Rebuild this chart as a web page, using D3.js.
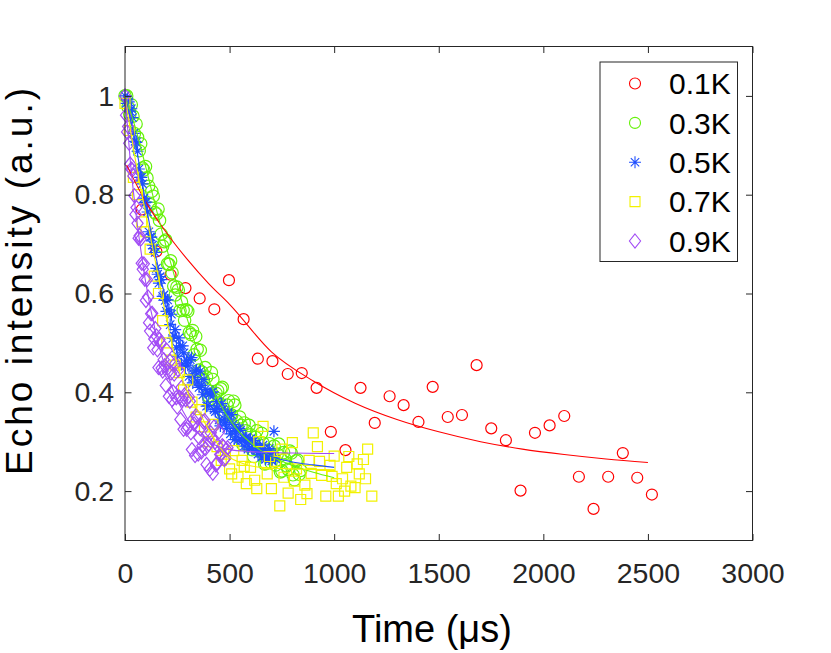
<!DOCTYPE html>
<html>
<head>
<meta charset="utf-8">
<script src="https://cdn.jsdelivr.net/npm/d3@7"></script>
<style>
  body { margin: 0; background: #fff; }
</style>
</head>
<body>
<div id="chart"></div>
<script>
// ---- data ----
var tempLabels = ["0.1K", "0.3K", "0.5K", "0.7K", "0.9K"];
var xTicks = [0, 500, 1000, 1500, 2000, 2500, 3000];
var yTicks = [0.2, 0.4, 0.6, 0.8, 1];

var time01 = [80, 150, 218, 289, 357, 427, 497, 567, 635, 705, 778, 845, 916, 984, 1054, 1126, 1194, 1265, 1332, 1403,
              1471, 1543, 1611, 1681, 1751, 1821, 1891, 1960, 2030, 2100, 2170, 2240, 2310, 2380, 2449, 2519];
var echo01 = [0.77, 0.685, 0.638, 0.611, 0.590, 0.568, 0.627, 0.548, 0.468, 0.463, 0.437, 0.439, 0.409, 0.320, 0.283, 0.409, 0.338, 0.392, 0.374, 0.340,
              0.411, 0.350, 0.354, 0.455, 0.327, 0.303, 0.201, 0.318, 0.333, 0.352, 0.229, 0.164, 0.229, 0.277, 0.227, 0.193];

var time03 = [0, 15, 30, 45, 60, 75, 90, 105, 120, 135, 150, 165, 180, 195, 210, 225, 240, 255, 270, 285,
              300, 315, 330, 345, 360, 375, 390, 405, 420, 435, 450, 465, 480, 495, 510, 525, 540, 555, 570, 585,
              600, 615, 630, 645, 660, 675, 690, 705, 720, 735, 750, 765, 780, 795, 810, 825, 840,
              8, 23, 38, 53, 68, 83, 98, 113, 128, 143, 158, 173, 188, 203, 218, 233, 248, 263, 278, 293,
              308, 323, 338, 353, 368, 383, 398, 413, 428, 443, 458, 473, 488, 503, 518, 533, 548, 563, 578, 593,
              608, 623, 638, 653, 668, 683, 698, 713, 728, 743, 758, 773, 788, 803, 818, 833];
var echo03 = [1.000, 0.977, 0.982, 0.924, 0.916, 0.903, 0.850, 0.834, 0.780, 0.797, 0.761, 0.748, 0.696, 0.708, 0.659, 0.642, 0.597, 0.607, 0.583, 0.546,
              0.564, 0.517, 0.476, 0.487, 0.485, 0.425, 0.431, 0.385, 0.426, 0.398, 0.378, 0.410, 0.354, 0.383, 0.354, 0.374, 0.313, 0.333, 0.338, 0.295,
              0.314, 0.270, 0.322, 0.281, 0.297, 0.256, 0.296, 0.272, 0.253, 0.295, 0.241, 0.265, 0.244, 0.277, 0.223, 0.263, 0.242,
              1.000, 0.963, 0.959, 0.943, 0.889, 0.854, 0.857, 0.817, 0.807, 0.764, 0.771, 0.720, 0.705, 0.660, 0.666, 0.615, 0.613, 0.565, 0.566, 0.567,
              0.521, 0.525, 0.513, 0.445, 0.441, 0.450, 0.393, 0.440, 0.386, 0.403, 0.407, 0.355, 0.374, 0.352, 0.382, 0.342, 0.350, 0.295, 0.322, 0.333,
              0.284, 0.309, 0.283, 0.317, 0.255, 0.283, 0.258, 0.291, 0.275, 0.239, 0.278, 0.251, 0.281, 0.233, 0.261, 0.234];

var time05 = [0, 12, 24, 36, 48, 60, 72, 84, 96, 108, 120, 132, 144, 156, 168, 180, 192, 204, 216, 228,
              240, 252, 264, 276, 288, 300, 312, 324, 336, 348, 360, 372, 384, 396, 408, 420, 432, 444, 456, 468,
              480, 492, 504, 516, 528, 540, 552, 564, 576, 588, 600, 612, 624, 636, 648, 660, 672, 684, 696, 708, 712, 720,
              6, 18, 30, 42, 54, 66, 78, 90, 102, 114, 126, 138, 150, 162, 174, 186, 198, 210, 222, 234,
              246, 258, 270, 282, 294, 306, 318, 330, 342, 354, 366, 378, 390, 402, 414, 426, 438, 450, 462, 474,
              486, 498, 510, 522, 534, 546, 558, 570, 582, 594, 606, 618, 630, 642, 654, 666, 678, 690, 702];
var echo05 = [1.000, 0.992, 0.969, 0.956, 0.908, 0.888, 0.835, 0.822, 0.784, 0.765, 0.714, 0.698, 0.683, 0.639, 0.634, 0.594, 0.586, 0.587, 0.537, 0.509,
              0.527, 0.473, 0.494, 0.494, 0.453, 0.455, 0.466, 0.419, 0.443, 0.421, 0.443, 0.395, 0.406, 0.373, 0.398, 0.401, 0.361, 0.367, 0.332, 0.366,
              0.338, 0.359, 0.316, 0.335, 0.321, 0.303, 0.323, 0.302, 0.308, 0.285, 0.306, 0.290, 0.296, 0.275, 0.283, 0.293, 0.264, 0.278, 0.265, 0.278, 0.321, 0.265,
              0.985, 0.988, 0.974, 0.924, 0.906, 0.852, 0.835, 0.793, 0.785, 0.725, 0.714, 0.691, 0.651, 0.621, 0.628, 0.597, 0.564, 0.567, 0.558, 0.514,
              0.490, 0.510, 0.458, 0.480, 0.465, 0.432, 0.470, 0.430, 0.445, 0.410, 0.414, 0.426, 0.372, 0.397, 0.400, 0.365, 0.381, 0.344, 0.377, 0.346,
              0.327, 0.346, 0.355, 0.304, 0.323, 0.327, 0.303, 0.291, 0.308, 0.299, 0.286, 0.302, 0.283, 0.287, 0.269, 0.286, 0.269, 0.286, 0.261];

var time07 = [0, 20, 40, 60, 80, 100, 120, 140, 160, 180, 200, 220, 240, 260, 280, 300, 320, 340, 360, 380,
              400, 420, 440, 460, 480, 500, 510, 520, 540, 560, 570, 580, 600, 620, 630, 640, 660, 680, 690, 700,
              720, 740, 750, 760, 780, 800, 810, 820, 840, 860, 870, 880, 890, 900, 920, 930, 940, 960, 980, 990,
              1000, 1010, 1020, 1040, 1050, 1060, 1070, 1080, 1100, 1110, 1120, 1140, 1150, 1160, 1180];
var echo07 = [0.985, 0.930, 0.835, 0.800, 0.745, 0.725, 0.690, 0.635, 0.600, 0.545, 0.500, 0.465, 0.455, 0.440, 0.405, 0.425, 0.380, 0.350, 0.365, 0.330,
              0.300, 0.335, 0.290, 0.262, 0.275, 0.245, 0.235, 0.282, 0.228, 0.262, 0.250, 0.215, 0.248, 0.222, 0.205, 0.300, 0.331, 0.235, 0.270, 0.205,
              0.260, 0.170, 0.285, 0.228, 0.196, 0.298, 0.220, 0.245, 0.183, 0.212, 0.195, 0.262, 0.236, 0.318, 0.290, 0.260, 0.232, 0.190, 0.252, 0.230,
              0.271, 0.215, 0.190, 0.225, 0.200, 0.248, 0.270, 0.210, 0.207, 0.255, 0.235, 0.264, 0.225, 0.285, 0.190];

var time09 = [0, 10, 20, 30, 40, 50, 60, 70, 80, 90, 100, 110, 120, 130, 140, 150, 160, 170, 180, 190,
              200, 210, 220, 230, 240, 250, 260, 270, 280, 290, 300, 310, 320, 330, 340, 350, 360, 370, 380, 390,
              400, 410, 420, 430, 440, 450, 460, 470, 480, 490,
              5, 15, 25, 35, 45, 55, 65, 75, 85, 95, 105, 115, 125, 135, 145, 155, 165, 175, 185, 195,
              205, 215, 225, 235, 245, 255, 265, 275, 285, 295, 305, 315, 325, 335, 345, 355, 365, 375, 385, 395,
              405, 415, 425, 435, 445, 455, 465, 475, 485];
var echo09 = [1.000, 0.927, 0.904, 0.852, 0.838, 0.760, 0.742, 0.717, 0.661, 0.660, 0.586, 0.593, 0.524, 0.560, 0.508, 0.514, 0.450, 0.500, 0.443, 0.454,
              0.485, 0.392, 0.439, 0.401, 0.458, 0.370, 0.390, 0.410, 0.325, 0.385, 0.330, 0.382, 0.284, 0.336, 0.353, 0.275, 0.326, 0.292, 0.343, 0.254,
              0.295, 0.318, 0.236, 0.299, 0.257, 0.320, 0.274, 0.290, 0.267, 0.288,
              0.961, 0.938, 0.862, 0.850, 0.798, 0.774, 0.712, 0.710, 0.649, 0.629, 0.628, 0.541, 0.559, 0.490, 0.529, 0.486, 0.507, 0.449, 0.466, 0.414,
              0.441, 0.463, 0.385, 0.437, 0.389, 0.445, 0.345, 0.385, 0.395, 0.325, 0.391, 0.318, 0.345, 0.272, 0.349, 0.308, 0.279, 0.340, 0.286, 0.317,
              0.244, 0.307, 0.330, 0.253, 0.291, 0.274, 0.292, 0.264, 0.284];

// fitted curves
var fitTime01 = [8, 100, 200, 300, 400, 500, 700, 900, 1100, 1300, 1500, 1700, 1900, 2100, 2300, 2500];
var fitEcho01 = [0.86, 0.785, 0.722, 0.668, 0.620, 0.578, 0.482, 0.423, 0.378, 0.345, 0.320, 0.300, 0.285, 0.274, 0.265, 0.258];
var fitTime03 = [0, 50, 100, 150, 200, 250, 300, 350, 400, 450, 500, 550, 600, 650, 700, 800, 900, 1000];
var fitEcho03 = [1.0, 0.935, 0.855, 0.77, 0.69, 0.615, 0.545, 0.48, 0.425, 0.38, 0.345, 0.318, 0.298, 0.282, 0.27, 0.252, 0.238, 0.227];
var fitTime05 = [0, 50, 100, 150, 200, 250, 300, 350, 400, 450, 500, 550, 600, 650, 700, 800, 900, 1000];
var fitEcho05 = [1.0, 0.905, 0.78, 0.67, 0.58, 0.51, 0.455, 0.415, 0.38, 0.35, 0.325, 0.305, 0.29, 0.279, 0.27, 0.259, 0.253, 0.248];
var fitTime07 = [0, 50, 100, 150, 200, 250, 300, 360, 420, 480, 550, 650, 800, 1000];
var fitEcho07 = [1.0, 0.87, 0.76, 0.655, 0.545, 0.455, 0.40, 0.355, 0.31, 0.275, 0.258, 0.248, 0.245, 0.243];
var fitTime09 = [0, 25, 50, 75, 100, 150, 200, 250, 300, 350, 400, 450, 500, 600, 700, 800, 1000];
var fitEcho09 = [1.0, 0.87, 0.77, 0.69, 0.62, 0.515, 0.44, 0.385, 0.345, 0.318, 0.30, 0.29, 0.284, 0.28, 0.278, 0.277, 0.276];

var seriesColor = ["#ff0000", "#66f20a", "#1f4fff", "#f2f200", "#a24cf5"];
var seriesMarker = ["circle", "bigcircle", "star", "square", "diamond"];

// ---- drawing ----
var width = 831, height = 653;
var axisColor = "#262626";
var font = "'Liberation Sans', Arial, Helvetica, sans-serif";

var svg = d3.select("#chart").append("svg")
            .attr("width", width)
            .attr("height", height)
            .style("background", "#fff");

var x = d3.scaleLinear().domain([0, 3000]).range([125, 752.5]);
var y = d3.scaleLinear().domain([0.1, 1.1]).range([540.5, 46.5]);

var markerPath = {
    circle: "M5.5,0A5.5,5.5 0 1,1 -5.5,0A5.5,5.5 0 1,1 5.5,0Z",
    bigcircle: "M6.2,0A6.2,6.2 0 1,1 -6.2,0A6.2,6.2 0 1,1 6.2,0Z",
    square: "M-5,-5H5V5H-5Z",
    diamond: "M0,-7L5.6,0L0,7L-5.6,0Z",
    star: "M-6,0H6M0,-6V6M-4.2,-4.2L4.2,4.2M-4.2,4.2L4.2,-4.2"
};

var series = [
    { t: time01, e: echo01, ft: fitTime01, fe: fitEcho01 },
    { t: time03, e: echo03, ft: fitTime03, fe: fitEcho03 },
    { t: time05, e: echo05, ft: fitTime05, fe: fitEcho05 },
    { t: time07, e: echo07, ft: fitTime07, fe: fitEcho07 },
    { t: time09, e: echo09, ft: fitTime09, fe: fitEcho09 }
];

var plot = svg.append("g").attr("class", "plot");

series.forEach(function(s, k) {
    plot.append("g").attr("class", "series" + k)
        .selectAll("path")
        .data(d3.range(s.t.length))
        .enter()
        .append("path")
        .attr("d", markerPath[seriesMarker[k]])
        .attr("transform", function(i) { return "translate(" + x(s.t[i]) + "," + y(s.e[i]) + ")"; })
        .attr("fill", "none")
        .attr("stroke", seriesColor[k])
        .attr("stroke-width", 1.2);
});

var line = d3.line()
             .x(function(d) { return x(d[0]); })
             .y(function(d) { return y(d[1]); })
             .curve(d3.curveMonotoneX);

series.forEach(function(s, k) {
    plot.append("path")
        .datum(d3.zip(s.ft, s.fe))
        .attr("d", line)
        .attr("fill", "none")
        .attr("stroke", seriesColor[k])
        .attr("stroke-width", 1.1);
});

// axes, MATLAB style: box with ticks pointing in on every side
function styleAxis(g) {
    g.select(".domain").remove();
    g.selectAll(".tick line").attr("stroke", axisColor).attr("stroke-width", 1);
    g.selectAll(".tick text")
     .attr("fill", axisColor)
     .style("font-family", font)
     .style("font-size", "28.5px");
}

svg.append("g").attr("transform", "translate(0,540.5)")
   .call(d3.axisBottom(x).tickValues(xTicks).tickSizeInner(-6.5).tickSizeOuter(0).tickPadding(22)
           .tickFormat(d3.format("d")))
   .call(styleAxis);

svg.append("g").attr("transform", "translate(125,0)")
   .call(d3.axisLeft(y).tickValues(yTicks).tickSizeInner(-6.5).tickSizeOuter(0).tickPadding(11)
           .tickFormat(d3.format("~g")))
   .call(styleAxis);

svg.append("g").attr("transform", "translate(0,46.5)")
   .call(d3.axisTop(x).tickValues(xTicks).tickSizeInner(-6.5).tickSizeOuter(0).tickFormat(""))
   .call(styleAxis);

svg.append("g").attr("transform", "translate(752.5,0)")
   .call(d3.axisRight(y).tickValues(yTicks).tickSizeInner(-6.5).tickSizeOuter(0).tickFormat(""))
   .call(styleAxis);

svg.append("rect")
   .attr("x", 125).attr("y", 46.5)
   .attr("width", 627.5).attr("height", 494)
   .attr("fill", "none")
   .attr("stroke", axisColor)
   .attr("stroke-width", 1);

// axis labels
svg.append("text")
   .attr("x", 432).attr("y", 642)
   .attr("text-anchor", "middle")
   .style("font-family", font)
   .style("font-size", "38px")
   .attr("fill", "#000")
   .text("Time (\u03bcs)");

svg.append("text")
   .attr("transform", "translate(32,280) rotate(-90)")
   .attr("text-anchor", "middle")
   .style("font-family", font)
   .style("font-size", "37px")
   .style("letter-spacing", "3px")
   .attr("fill", "#000")
   .text("Echo intensity (a.u.)");

// legend
var legend = svg.append("g").attr("class", "legend");
legend.append("rect")
      .attr("x", 600).attr("y", 62)
      .attr("width", 137.5).attr("height", 199.5)
      .attr("fill", "#fff")
      .attr("stroke", axisColor)
      .attr("stroke-width", 1);

var rowY = d3.scalePoint().domain(tempLabels).range([83.5, 241]);

var rows = legend.selectAll(".row")
                 .data(tempLabels)
                 .enter()
                 .append("g")
                 .attr("class", "row")
                 .attr("transform", function(d) { return "translate(0," + rowY(d) + ")"; });

rows.append("path")
    .attr("d", function(d, i) { return i === 1 ? markerPath.circle : markerPath[seriesMarker[i]]; })
    .attr("transform", "translate(635,0)")
    .attr("fill", "none")
    .attr("stroke", function(d, i) { return seriesColor[i]; })
    .attr("stroke-width", 1.1);

rows.append("text")
    .attr("x", 669)
    .attr("dy", "0.36em")
    .style("font-family", font)
    .style("font-size", "30px")
    .attr("fill", "#000")
    .text(function(d) { return d; });
</script>
</body>
</html>
